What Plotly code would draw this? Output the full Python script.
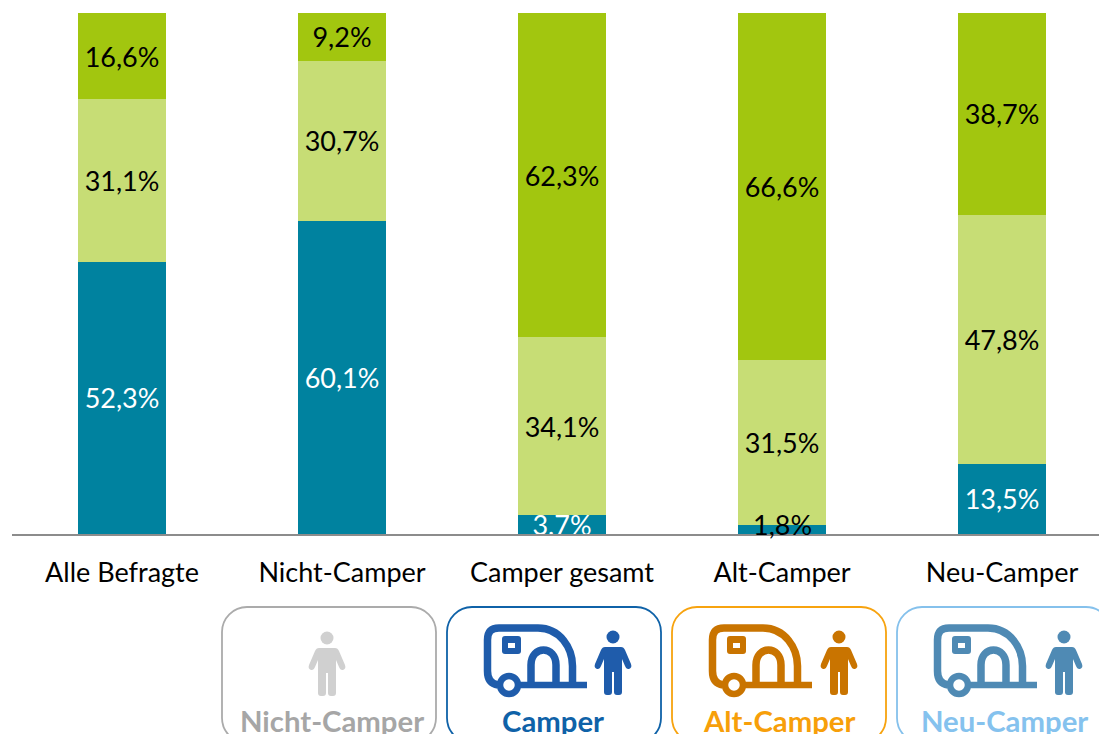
import plotly.graph_objects as go

categories = ["Alle Befragte", "Nicht-Camper", "Camper gesamt", "Alt-Camper", "Neu-Camper"]
teal_values = [52.3, 60.1, 3.7, 1.8, 13.5]
light_values = [31.1, 30.7, 34.1, 31.5, 47.8]
dark_values = [16.6, 9.2, 62.3, 66.6, 38.7]
badge_names = ["Nicht-Camper", "Camper", "Alt-Camper", "Neu-Camper"]

FONT = "Lato, Carlito, Calibri, sans-serif"
FS = 27
W, H = 1099, 734
L, T, B = 12, 13, 534
PW, PH = W - L, B - T


def fmt(v):
    return f"{v:.1f}".replace(".", ",") + "%"


def X(px):
    return (px - L) / PW


def Y(py):
    return (B - py) / PH


def path(cmds, dx=0, dy=0):
    out = []
    for c in cmds:
        out.append(c[0] + " ".join(f"{X(c[i] + dx):.5f},{Y(c[i + 1] + dy):.5f}" for i in range(1, len(c), 2)))
    return " ".join(out)


fig = go.Figure()
xs = list(range(len(categories)))
common = dict(x=xs, width=0.4, textposition="inside", constraintext="none", insidetextanchor="middle",
              textangle=0, marker_line_width=0)
fig.add_bar(y=teal_values, marker_color="#00829F",
            text=[fmt(v) if v != 1.8 else "" for v in teal_values],
            textfont=dict(color="white", size=FS, family=FONT), **common)
fig.add_bar(y=light_values, marker_color="#C7DD75",
            text=[fmt(v) for v in light_values],
            textfont=dict(color="black", size=FS, family=FONT), **common)
fig.add_bar(y=dark_values, marker_color="#A2C60F",
            text=[fmt(v) for v in dark_values],
            textfont=dict(color="black", size=FS, family=FONT), **common)

annotations = [dict(x=3, y=teal_values[3] / 2, xref="x", yref="y", yshift=5, showarrow=False,
                    text=fmt(teal_values[3]), font=dict(color="black", size=FS, family=FONT))]
shapes = []

badge_left = [222, 447, 672, 897]
label_center = [332, 553, 778.5, 1004.5]
border_col = ["#ABABAB", "#0F62A8", "#F7A30F", "#85C1EC"]
text_col = ["#A6A6A6", "#0F62A8", "#F79F0A", "#85C2EE"]
icon_col = ["#D0D0D0", "#1F5CAB", "#C97400", "#4F8AB4"]
car_dx = [None, 0, 225, 450]
per_dx = [-286, 0, 226, 451]
per_dy = [1, 0, 0, 0]

body = [("M", 498, 685), ("C", 491, 684, 487.5, 679, 487.5, 671), ("L", 487.5, 640),
        ("C", 487.5, 632, 491, 628, 499, 628), ("L", 538, 628),
        ("C", 560, 628, 572.5, 648, 572.5, 666), ("L", 572.5, 685)]
hitch = [("M", 518, 685), ("L", 587, 685)]
door = [("M", 531, 685), ("L", 531, 665), ("C", 531, 645, 556, 645, 556, 665), ("L", 556, 685)]
window = [("M", 505, 636), ("L", 518, 636), ("C", 520, 636, 521, 637, 521, 639), ("L", 521, 651),
          ("C", 521, 653, 520, 654, 518, 654), ("L", 505, 654), ("C", 503, 654, 502, 653, 502, 651),
          ("L", 502, 639), ("C", 502, 637, 503, 636, 505, 636), ("Z",)]
hole = [("M", 508, 643), ("L", 515, 643), ("L", 515, 648), ("L", 508, 648), ("Z",)]
person = [("M", 605, 647), ("L", 621, 647), ("C", 623, 647, 624, 648, 625, 650), ("L", 631, 664),
          ("C", 632, 667, 631, 668, 629, 669), ("C", 627, 669.5, 626, 668, 625, 666), ("L", 622, 659),
          ("L", 622, 692), ("C", 622, 694, 621, 695, 619, 695), ("L", 617, 695), ("C", 615, 695, 614, 694, 614, 692),
          ("L", 614, 672), ("L", 612, 672), ("L", 612, 692), ("C", 612, 694, 611, 695, 609, 695),
          ("L", 607, 695), ("C", 605, 695, 604, 694, 604, 692), ("L", 604, 659), ("L", 601, 666),
          ("C", 600, 668, 599, 669.5, 597, 669), ("C", 595, 668, 594, 667, 595, 664), ("L", 601, 650),
          ("C", 602, 648, 603, 647, 605, 647), ("Z",)]

for i, name in enumerate(badge_names):
    x0, x1, y0, y1, r = badge_left[i], badge_left[i] + 214, 607, 743, 25
    k = r * 0.45
    rr = [("M", x0 + r, y0), ("L", x1 - r, y0), ("C", x1 - k, y0, x1, y0 + k, x1, y0 + r), ("L", x1, y1 - r),
          ("C", x1, y1 - k, x1 - k, y1, x1 - r, y1), ("L", x0 + r, y1), ("C", x0 + k, y1, x0, y1 - k, x0, y1 - r),
          ("L", x0, y0 + r), ("C", x0, y0 + k, x0 + k, y0, x0 + r, y0), ("Z",)]
    shapes.append(dict(type="path", xref="paper", yref="paper", path=path(rr),
                       line=dict(color=border_col[i], width=1.8), fillcolor="white"))
    col = icon_col[i]
    if car_dx[i] is not None:
        d = car_dx[i]
        for p, wd in ((body, 7.5), (hitch, 6.5), (door, 7.5)):
            shapes.append(dict(type="path", xref="paper", yref="paper", path=path(p, d),
                               line=dict(color=col, width=wd)))
        shapes.append(dict(type="path", xref="paper", yref="paper", path=path(window, d),
                           line=dict(width=0), fillcolor=col))
        shapes.append(dict(type="path", xref="paper", yref="paper", path=path(hole, d),
                           line=dict(width=0), fillcolor="white"))
        shapes.append(dict(type="circle", xref="paper", yref="paper", x0=X(500 + d), x1=X(518 + d),
                           y0=Y(694), y1=Y(676), line=dict(color=col, width=6.5), fillcolor="white"))
    dx, dy = per_dx[i], per_dy[i]
    shapes.append(dict(type="path", xref="paper", yref="paper", path=path(person, dx, dy),
                       line=dict(width=0), fillcolor=col))
    shapes.append(dict(type="circle", xref="paper", yref="paper", x0=X(606.5 + dx), x1=X(619.5 + dx),
                       y0=Y(643.5 + dy), y1=Y(630.5 + dy), line=dict(width=0), fillcolor=col))
    annotations.append(dict(x=X(label_center[i]), y=Y(720), xref="paper", yref="paper", showarrow=False,
                            xanchor="center", yanchor="middle", text=f"<b>{name}</b>",
                            font=dict(color=text_col[i], size=29.3, family=FONT)))

fig.update_layout(
    width=W, height=H, autosize=False, barmode="stack", barnorm="percent", showlegend=False,
    paper_bgcolor="white", plot_bgcolor="white",
    margin=dict(l=L, r=0, t=T, b=H - B, pad=0),
    font=dict(family=FONT),
    xaxis=dict(range=[-0.5, -0.5 + PW / 220], tickvals=xs, ticktext=categories, showgrid=False, zeroline=False,
               showline=True, linecolor="#8C8C8C", linewidth=2, ticks="outside", ticklen=14,
               tickcolor="rgba(0,0,0,0)", tickfont=dict(size=FS, color="black", family=FONT), tickangle=0),
    yaxis=dict(range=[0, 100], visible=False, showgrid=False, zeroline=False),
    shapes=shapes, annotations=annotations,
)
fig.write_html("out.html", config=dict(displayModeBar=False),
               post_script="document.body.style.margin='0';document.body.style.overflow='hidden';")
